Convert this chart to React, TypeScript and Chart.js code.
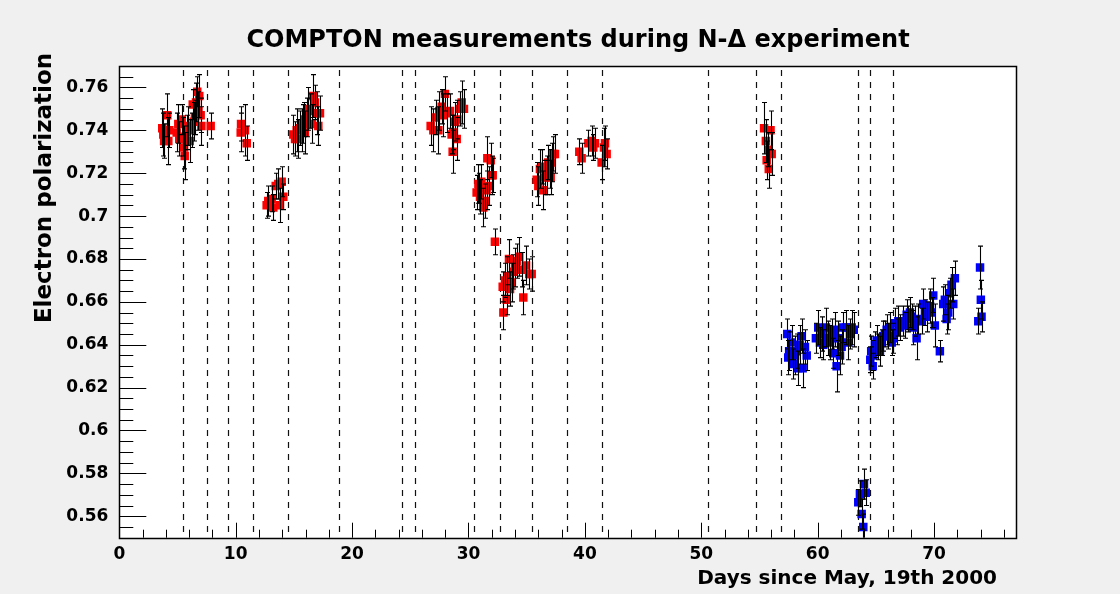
import React, { useEffect, useRef } from 'react';
import { Chart, registerables } from 'chart.js';

Chart.register(...registerables);

const titleText = 'COMPTON measurements during N-\u0394 experiment';
const xTitle = 'Days since May, 19th 2000';
const yTitle = 'Electron polarization';

const xTickValues = [0, 10, 20, 30, 40, 50, 60, 70];
const yTickValues = [0.56, 0.58, 0.6, 0.62, 0.64, 0.66, 0.68, 0.7, 0.72, 0.74, 0.76];

const runBoundaries = [5.5, 7.5, 9.37, 11.5, 14.47, 18.85, 24.3, 25.43, 30.5, 32.71, 35.48, 38.46, 41.47, 50.6, 54.7, 56.85, 63.5, 64.47, 66.46];

const redDays = [
  3.69, 3.78, 3.85, 4.12, 4.21, 4.3, 4.93, 5.07, 5.15, 5.36, 5.45, 5.56, 5.62, 5.79, 5.93, 6.05, 6.22, 6.31, 6.4, 6.5, 6.59, 6.7, 6.8, 6.87, 6.99, 7.05, 7.85,
  10.43, 10.46, 10.8, 10.95,
  12.66, 12.8, 13.09, 13.23, 13.44, 13.66, 13.8, 13.95, 14.09,
  14.95, 15.1, 15.24, 15.38, 15.52, 15.67, 15.81, 15.9, 15.95, 16.1, 16.24, 16.38, 16.53, 16.67, 16.81, 16.96, 17.1, 17.24,
  26.75, 26.98, 27.2, 27.41, 27.49, 27.7, 27.85, 27.98, 28.13, 28.41, 28.55, 28.64, 28.69, 28.85, 28.99, 29.04, 29.27, 29.42, 29.61,
  30.7, 30.85, 30.93, 30.99, 31.1, 31.27, 31.42, 31.55, 31.62, 31.79, 31.91, 31.99, 32.08, 32.27,
  32.94, 33.0, 33.14, 33.28, 33.33, 33.48, 33.57, 33.71, 33.85, 34.0, 34.14, 34.36, 34.57, 34.71, 34.94, 35.22, 35.43,
  35.86, 36.0, 36.14, 36.29, 36.43, 36.57, 36.72, 36.86, 37.0, 37.06, 37.15, 37.29, 37.43,
  39.52, 39.72, 40.3, 40.58, 40.72, 40.87, 41.44, 41.64, 41.73, 41.87,
  55.4, 55.55, 55.62, 55.76, 55.8, 55.95, 56.05,
];
const redPol = [
  0.741, 0.738, 0.735, 0.747, 0.735, 0.74, 0.739, 0.743, 0.736, 0.745, 0.737, 0.732, 0.728, 0.739, 0.742, 0.735, 0.74, 0.752, 0.744, 0.746, 0.753, 0.758, 0.749, 0.756, 0.747, 0.742, 0.742,
  0.739, 0.743, 0.74, 0.734,
  0.705, 0.707, 0.708, 0.704, 0.714, 0.715, 0.705, 0.716, 0.709,
  0.738, 0.736, 0.74, 0.736, 0.741, 0.74, 0.743, 0.745, 0.739, 0.746, 0.75, 0.749, 0.743, 0.756, 0.753, 0.748, 0.742, 0.748,
  0.742, 0.74, 0.746, 0.74, 0.749, 0.751, 0.747, 0.757, 0.748, 0.749, 0.738, 0.73, 0.739, 0.744, 0.736, 0.745, 0.75, 0.753, 0.75,
  0.711, 0.715, 0.713, 0.709, 0.716, 0.704, 0.707, 0.712, 0.727, 0.714, 0.726, 0.719, 0.719, 0.688,
  0.667, 0.655, 0.67, 0.661, 0.672, 0.68, 0.666, 0.669, 0.674, 0.676, 0.679, 0.681, 0.675, 0.662, 0.677, 0.673, 0.673,
  0.717, 0.714, 0.722, 0.723, 0.712, 0.718, 0.719, 0.725, 0.722, 0.718, 0.725, 0.729, 0.729,
  0.73, 0.727, 0.734, 0.735, 0.732, 0.734, 0.725, 0.732, 0.734, 0.729,
  0.741, 0.735, 0.726, 0.731, 0.722, 0.74, 0.729,
];
const redErr = [
  0.009, 0.01, 0.008, 0.01, 0.011, 0.008, 0.009, 0.009, 0.008, 0.007, 0.009, 0.01, 0.011, 0.008, 0.009, 0.01, 0.008, 0.007, 0.009, 0.008, 0.009, 0.007, 0.009, 0.01, 0.008, 0.009, 0.006,
  0.009, 0.008, 0.012, 0.008,
  0.006, 0.007, 0.006, 0.006, 0.006, 0.007, 0.008, 0.007, 0.006,
  0.009, 0.008, 0.01, 0.009, 0.008, 0.01, 0.009, 0.008, 0.01, 0.009, 0.01, 0.008, 0.009, 0.01, 0.008, 0.01, 0.009, 0.008,
  0.009, 0.01, 0.008, 0.011, 0.009, 0.008, 0.01, 0.008, 0.009, 0.008, 0.009, 0.01, 0.008, 0.009, 0.01, 0.009, 0.008, 0.01, 0.009,
  0.008, 0.009, 0.007, 0.008, 0.008, 0.009, 0.008, 0.009, 0.01, 0.009, 0.008, 0.009, 0.008, 0.006,
  0.007, 0.008, 0.008, 0.007, 0.009, 0.009, 0.008, 0.009, 0.008, 0.009, 0.008, 0.009, 0.008, 0.008, 0.009, 0.007, 0.008,
  0.008, 0.009, 0.009, 0.008, 0.009, 0.008, 0.009, 0.008, 0.009, 0.008, 0.009, 0.008, 0.009,
  0.006, 0.007, 0.006, 0.007, 0.006, 0.007, 0.008, 0.009, 0.008, 0.007,
  0.012, 0.01, 0.009, 0.008, 0.009, 0.009, 0.01,
];

const blueDays = [
  57.39, 57.47, 57.55, 57.76, 57.9, 58.05, 58.2, 58.33, 58.45, 58.62, 58.71, 58.91, 59.06,
  59.85, 60.05, 60.2, 60.34, 60.48, 60.71, 60.91, 61.06, 61.2, 61.34, 61.49, 61.63, 61.77, 61.92, 62.06, 62.2, 62.43, 62.63, 62.78, 62.92, 63.1,
  63.49, 63.63, 63.78, 63.92, 63.98, 64.13,
  64.52, 64.6, 64.73, 64.78, 64.92, 65.07, 65.21, 65.35, 65.5, 65.64, 65.78, 65.93, 66.07, 66.21, 66.36, 66.5, 66.64, 66.79, 66.93, 67.07, 67.35, 67.5, 67.65, 67.78, 67.93, 68.08, 68.22, 68.36, 68.5, 68.64, 68.93, 69.07, 69.22, 69.36, 69.65, 69.79, 69.93, 70.07, 70.5, 70.79, 70.93, 71.08, 71.22, 71.36, 71.5, 71.65, 71.79,
  73.8, 74.02, 74.08, 73.95,
];
const bluePol = [
  0.645, 0.634, 0.637, 0.641, 0.631, 0.635, 0.637, 0.629, 0.64, 0.644, 0.629, 0.639, 0.635,
  0.643, 0.648, 0.641, 0.645, 0.64, 0.648, 0.643, 0.641, 0.645, 0.636, 0.647, 0.63, 0.643, 0.635, 0.639, 0.648, 0.648, 0.641, 0.645, 0.648, 0.647,
  0.5665, 0.5705, 0.561, 0.555, 0.575, 0.571,
  0.633, 0.637, 0.63, 0.635, 0.64, 0.642, 0.639, 0.637, 0.641, 0.644, 0.645, 0.647, 0.644, 0.648, 0.641, 0.643, 0.65, 0.646, 0.651, 0.648, 0.651, 0.649, 0.654, 0.652, 0.655, 0.653, 0.648, 0.651, 0.643, 0.652, 0.651, 0.659, 0.655, 0.653, 0.658, 0.655, 0.663, 0.649, 0.637, 0.659, 0.661, 0.652, 0.655, 0.664, 0.668, 0.659, 0.671,
  0.651, 0.661, 0.653, 0.676,
];
const blueErr = [
  0.007, 0.008, 0.009, 0.008, 0.007, 0.009, 0.008, 0.008, 0.009, 0.008, 0.009, 0.008, 0.007,
  0.007, 0.008, 0.007, 0.008, 0.007, 0.009, 0.008, 0.008, 0.007, 0.007, 0.008, 0.012, 0.008, 0.009, 0.008, 0.007, 0.008, 0.008, 0.007, 0.008, 0.008,
  0.006, 0.006, 0.007, 0.006, 0.007, 0.006,
  0.006, 0.007, 0.006, 0.007, 0.006, 0.007, 0.006, 0.007, 0.006, 0.007, 0.006, 0.007, 0.006, 0.007, 0.006, 0.007, 0.007, 0.006, 0.007, 0.006, 0.007, 0.006, 0.007, 0.006, 0.007, 0.006, 0.008, 0.007, 0.01, 0.007, 0.006, 0.007, 0.006, 0.007, 0.008, 0.007, 0.008, 0.01, 0.005, 0.008, 0.007, 0.007, 0.008, 0.007, 0.008, 0.007, 0.008,
  0.006, 0.009, 0.007, 0.01,
];

const FONT = '"DejaVu Sans", sans-serif';

const rootStylePlugin = {
  id: 'rootStyle',
  beforeDraw(chart: any) {
    const { ctx, chartArea: a, width, height } = chart;
    ctx.save();
    ctx.fillStyle = '#f0f0f0';
    ctx.fillRect(0, 0, width, height);
    ctx.fillStyle = '#ffffff';
    ctx.fillRect(a.left, a.top, a.right - a.left, a.bottom - a.top);
    ctx.restore();
  },
  beforeDatasetsDraw(chart: any) {
    const { ctx, chartArea: a, scales } = chart;
    ctx.save();
    ctx.strokeStyle = '#111';
    ctx.lineWidth = 1.2;
    ctx.setLineDash([6, 6]);
    runBoundaries.forEach((d) => {
      const x = Math.round(scales.x.getPixelForValue(d)) + 0.5;
      ctx.beginPath();
      ctx.moveTo(x, a.top + 4);
      ctx.lineTo(x, a.bottom);
      ctx.stroke();
    });
    ctx.restore();
  },
  afterDatasetsDraw(chart: any) {
    const { ctx, chartArea: a, scales } = chart;
    ctx.save();
    ctx.beginPath();
    ctx.rect(a.left, a.top, a.right - a.left, a.bottom - a.top);
    ctx.clip();
    ctx.strokeStyle = '#000';
    ctx.lineWidth = 1.1;
    chart.data.datasets.forEach((ds: any) => {
      const errs: number[] = ds.errors;
      ds.data.forEach((p: any, i: number) => {
        const x = Math.round(scales.x.getPixelForValue(p.x)) + 0.5;
        const y1 = scales.y.getPixelForValue(p.y - errs[i]);
        const y2 = scales.y.getPixelForValue(p.y + errs[i]);
        ctx.beginPath();
        ctx.moveTo(x, y1);
        ctx.lineTo(x, y2);
        ctx.moveTo(x - 2.5, y1);
        ctx.lineTo(x + 2.5, y1);
        ctx.moveTo(x - 2.5, y2);
        ctx.lineTo(x + 2.5, y2);
        ctx.stroke();
      });
    });
    ctx.restore();
  },
  afterDraw(chart: any) {
    const { ctx, chartArea: a, scales } = chart;
    ctx.save();
    ctx.strokeStyle = '#000';
    ctx.lineWidth = 1;
    for (let d = 2; d < 77.1; d += 2) {
      const x = Math.round(scales.x.getPixelForValue(d)) + 0.5;
      const len = d % 10 === 0 ? 15 : 8;
      ctx.beginPath();
      ctx.moveTo(x, a.bottom);
      ctx.lineTo(x, a.bottom - len);
      ctx.stroke();
    }
    for (let k = 0; k <= 44; k++) {
      const v = 0.55 + k * 0.005;
      const y = Math.round(scales.y.getPixelForValue(v)) + 0.5;
      const major = k % 4 === 2;
      const len = major ? 27 : 14;
      ctx.beginPath();
      ctx.moveTo(a.left, y);
      ctx.lineTo(a.left + len, y);
      ctx.stroke();
    }
    ctx.lineWidth = 1.5;
    ctx.strokeRect(Math.round(a.left) + 0.5, Math.round(a.top) + 0.5, Math.round(a.right - a.left), Math.round(a.bottom - a.top));
    ctx.fillStyle = '#000';
    ctx.font = 'bold 24px ' + FONT;
    ctx.textAlign = 'center';
    ctx.textBaseline = 'middle';
    ctx.fillText(titleText, 578, 41);
    ctx.font = 'bold 20px ' + FONT;
    ctx.textAlign = 'right';
    ctx.fillText(xTitle, 997, 579);
    ctx.translate(45, 188);
    ctx.rotate(-Math.PI / 2);
    ctx.font = 'bold 23px ' + FONT;
    ctx.textAlign = 'center';
    ctx.fillText(yTitle, 0, 0);
    ctx.restore();
  },
};

export default function App() {
  const canvasRef = useRef<HTMLCanvasElement>(null);

  useEffect(() => {
    document.body.style.margin = '0';
    document.body.style.background = '#f0f0f0';
    const canvas = canvasRef.current;
    if (!canvas) return;
    const tickFont = { family: FONT, weight: 'bold' as const, size: 17 };
    const chart = new Chart(canvas, {
      type: 'scatter',
      data: {
        datasets: [
          {
            label: 'before',
            data: redDays.map((d, i) => ({ x: d, y: redPol[i] })),
            errors: redErr,
            pointStyle: 'rect',
            pointRadius: 6,
            pointBorderWidth: 0,
            backgroundColor: '#ff0000',
            borderColor: '#ff0000',
          } as any,
          {
            label: 'after',
            data: blueDays.map((d, i) => ({ x: d, y: bluePol[i] })),
            errors: blueErr,
            pointStyle: 'rect',
            pointRadius: 6,
            pointBorderWidth: 0,
            backgroundColor: '#0000ff',
            borderColor: '#0000ff',
          } as any,
        ],
      },
      options: {
        animation: false,
        responsive: false,
        devicePixelRatio: 1,
        layout: { padding: { left: 0, top: 66, right: 103.3, bottom: 0 } },
        plugins: { legend: { display: false }, title: { display: false }, tooltip: { enabled: false } },
        events: [],
        scales: {
          x: {
            type: 'linear',
            min: 0,
            max: 77.1,
            grid: { display: false, drawTicks: false },
            border: { display: false },
            ticks: {
              font: tickFont,
              color: '#000',
              padding: 7,
              maxRotation: 0,
              autoSkip: false,
              callback: (v: any) => String(v),
            },
            afterBuildTicks: (s: any) => {
              s.ticks = xTickValues.map((v) => ({ value: v }));
            },
            afterFit: (s: any) => {
              s.height = 56.3;
            },
          },
          y: {
            type: 'linear',
            min: 0.55,
            max: 0.77,
            grid: { display: false, drawTicks: false },
            border: { display: false },
            ticks: {
              font: tickFont,
              color: '#000',
              padding: 11,
              autoSkip: false,
              callback: (v: any) => String(parseFloat(Number(v).toFixed(2))),
            },
            afterBuildTicks: (s: any) => {
              s.ticks = yTickValues.map((v) => ({ value: v }));
            },
            afterFit: (s: any) => {
              s.width = 119.3;
            },
          },
        },
      },
      plugins: [rootStylePlugin],
    } as any);
    return () => chart.destroy();
  }, []);

  return (
    <div style={{ width: 1120, height: 594 }}>
      <canvas ref={canvasRef} width={1120} height={594} style={{ display: 'block' }} />
    </div>
  );
}
